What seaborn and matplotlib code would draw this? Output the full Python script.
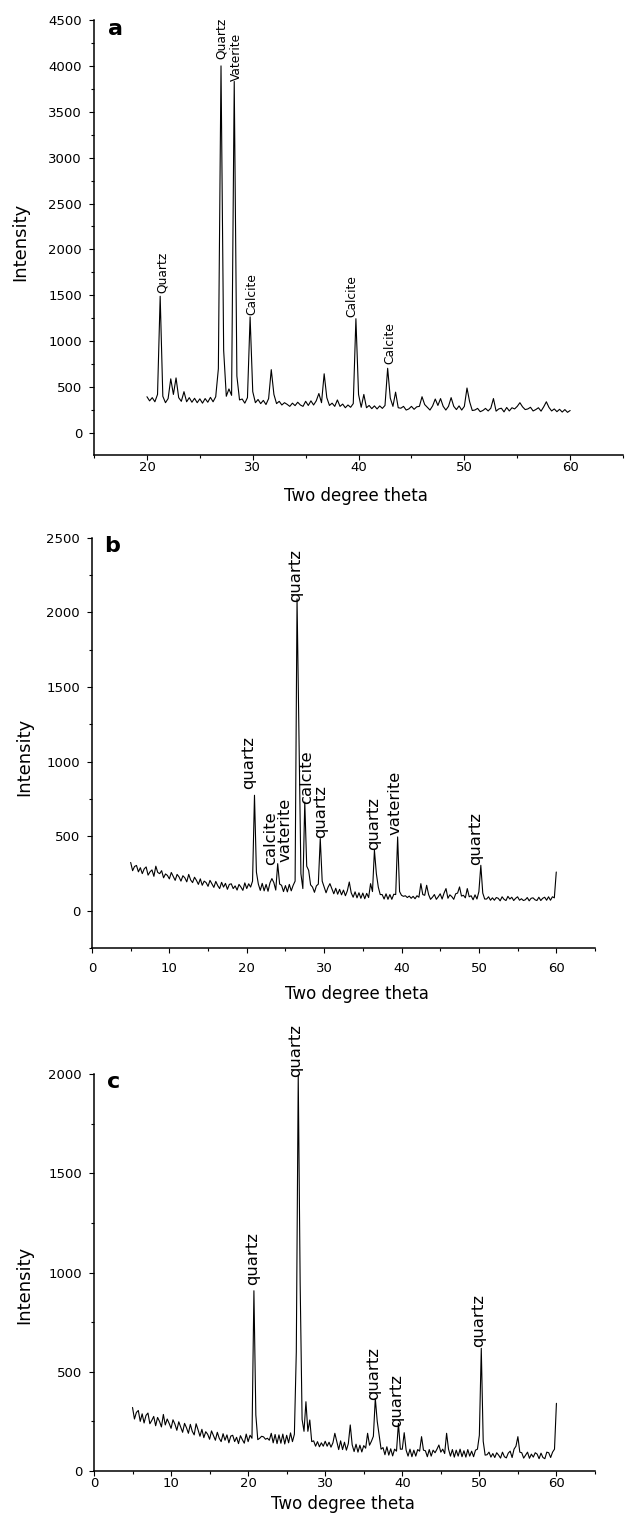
import numpy as np
import pandas as pd
import matplotlib
matplotlib.use("Agg")
import matplotlib.pyplot as plt
from matplotlib.ticker import MultipleLocator
import seaborn as sns

# scan: start angle of each pattern and step width (degrees 2-theta)
start_a = 20.0
start_bc = 5.0
step = 0.25

# pattern a, 20..60 deg, four readings per degree
intensity_a = [
    395, 350, 385, 340,  420, 1490, 400, 330,  375, 590, 420, 600,  385, 345, 450, 340,
    385, 335, 378, 330,  372, 325, 375, 335,  388, 340, 395, 700,  4000, 900, 400, 480,
    410, 3830, 620, 360,  370, 325, 385, 1265,  450, 330, 365, 320,  355, 310, 375, 690,
    420, 320, 345, 305,  330, 312, 290, 325,  298, 335, 305, 290,  345, 300, 350, 305,
    350, 430, 330, 645,  385, 300, 325, 290,  360, 290, 315, 275,  305, 280, 320, 1245,
    420, 280, 420, 275,  300, 265, 295, 262,  295, 268, 300, 705,  380, 290, 445, 275,
    270, 290, 250, 262,  290, 258, 285, 290,  395, 310, 280, 250,  295, 370, 300, 375,
    290, 250, 290, 385,  290, 255, 295, 250,  290, 490, 340, 245,  250, 268, 232, 245,
    268, 240, 270, 375,  238, 262, 270, 230,  278, 240, 275, 262,  290, 330, 285, 255,
    262, 280, 240, 255,  275, 238, 285, 340,  278, 240, 262, 232,  258, 228, 255, 225,
    245,
]

# pattern b, 5..60 deg
intensity_b = [
    325, 270, 298, 305,  262, 290, 250, 282,  295, 240, 262, 275,  232, 300, 258, 250,
    270, 222, 248, 238,  215, 258, 232, 205,  245, 228, 200, 236,  222, 195, 245, 208,
    190, 226, 205, 178,  215, 172, 200, 190,  165, 205, 182, 158,  198, 170, 150, 192,
    160, 185, 145, 178,  182, 150, 168, 140,  178, 160, 138, 188,  150, 182, 160, 200,
    775, 260, 180, 138,  185, 135, 178, 132,  188, 217, 190, 140,  317, 180, 172, 130,
    170, 128, 178, 135,  172, 200, 2090, 1150,  250, 150, 730, 300,  272, 175, 160, 125,
    168, 180, 485, 200,  160, 122, 158, 183,  150, 115, 152, 112,  145, 108, 140, 102,
    135, 194, 122, 92,  128, 88, 122, 85,  120, 82, 118, 90,  183, 130, 407, 250,
    160, 110, 110, 80,  115, 78, 110, 78,  112, 110, 496, 130,  105, 98, 102, 90,
    100, 85, 98, 82,  102, 92, 183, 110,  105, 172, 110, 78,  92, 110, 78, 95,
    115, 80, 120, 150,  85, 108, 96, 78,  115, 120, 161, 100,  105, 88, 150, 95,
    102, 75, 108, 80,  130, 306, 120, 80,  80, 95, 72, 88,  72, 90, 85, 68,
    95, 78, 70, 98,  80, 92, 70, 85,  95, 72, 82, 70,  75, 90, 68, 85,
    88, 75, 70, 92,  70, 85, 92, 72,  95, 72, 95, 88,
    261,
]

# pattern c, 5..60 deg
intensity_c = [
    320, 262, 295, 305,  250, 288, 242, 280,  292, 238, 255, 275,  228, 270, 250, 222,
    285, 232, 262, 240,  215, 258, 236, 205,  248, 222, 195, 240,  218, 190, 235, 200,
    182, 238, 208, 175,  210, 168, 198, 185,  160, 202, 178, 155,  195, 165, 148, 188,
    155, 182, 142, 176,  180, 148, 170, 138,  178, 158, 140, 186,  148, 180, 165, 908,
    282, 158, 165, 175,  172, 160, 165, 155,  190, 142, 184, 138,  182, 140, 186, 136,
    180, 142, 192, 148,  185, 600, 1995, 945,  260, 200, 349, 200,  257, 148, 152, 125,
    148, 122, 142, 125,  150, 125, 145, 120,  142, 190, 148, 108,  152, 108, 145, 105,
    138, 232, 132, 98,  135, 95, 130, 96,  128, 115, 190, 130,  150, 175, 366, 250,
    180, 110, 118, 82,  122, 80, 112, 76,  110, 100, 240, 110,  110, 193, 105, 75,
    110, 72, 105, 75,  108, 100, 173, 105,  102, 72, 108, 75,  105, 92, 110, 131,
    95, 110, 88, 190,  110, 75, 108, 70,  105, 75, 110, 72,  102, 70, 108, 75,
    100, 72, 105, 110,  180, 618, 150, 80,  82, 95, 70, 88,  68, 92, 80, 65,
    95, 72, 66, 90,  100, 68, 110, 125,  173, 95, 92, 65,  80, 95, 64, 85,
    70, 92, 85, 62,  90, 68, 62, 95,  92, 68, 95, 110,
    341,
]

# phase labels: text, x (deg), y where the text starts
names_a = ["Quartz", "Quartz", "Vaterite", "Calcite", "Calcite", "Calcite"]
label_x_a = [21.45, 27.0, 28.45, 29.95, 39.4, 43.0]
label_y_a = [1530, 4070, 3830, 1285, 1260, 750]

names_b = ["quartz", "calcite", "vaterite", "quartz", "calcite", "quartz", "quartz", "vaterite", "quartz"]
label_x_b = [20.2, 23.15, 24.9, 26.3, 27.7, 29.5, 36.4, 39.2, 49.6]
label_y_b = [820, 306, 328, 2071, 719, 491, 407, 507, 310]

names_c = ["quartz", "quartz", "quartz", "quartz", "quartz"]
label_x_c = [20.6, 26.2, 36.25, 39.3, 49.85]
label_y_c = [937, 1986, 358, 223, 626]

sns.set_style("ticks")
plt.rcParams["font.family"] = ["DejaVu Sans"]
plt.rcParams["text.color"] = "black"
plt.rcParams["axes.labelcolor"] = "black"
plt.rcParams["xtick.color"] = "black"
plt.rcParams["ytick.color"] = "black"

fig = plt.figure(figsize=(6.27, 15.39), dpi=100)
ax_a = fig.add_axes([0.150, 0.70435, 0.8437, 0.28265])
ax_b = fig.add_axes([0.1467, 0.38382, 0.8022, 0.26679])
ax_c = fig.add_axes([0.1499, 0.04418, 0.7990, 0.25796])

panels = [
    (ax_a, start_a, intensity_a, (15, 65), (-240, 4500), names_a, label_x_a, label_y_a, 8.8, "a", 1.0, (-0.1234, 0.49), (0.495, -0.0736)),
    (ax_b, start_bc, intensity_b, (0, 65), (-250, 2500), names_b, label_x_b, label_y_b, 11.8, "b", 6.0, (-0.1167, 0.466), (0.527, -0.0894)),
    (ax_c, start_bc, intensity_c, (0, 65), (0, 2000), names_c, label_x_c, label_y_c, 11.8, "c", 1.0, (-0.121, 0.468), (0.497, -0.0605)),
]

for ax, start, vals, xl, yl, names, lx, ly, fs, letter, xpad, ylab, xlab in panels:
    df = pd.DataFrame({"two_theta": start + step * np.arange(len(vals)), "intensity": vals})
    sns.lineplot(data=df, x="two_theta", y="intensity", ax=ax, color="black",
                 linewidth=0.8, estimator=None)
    ax.set_xlim(*xl)
    ax.set_ylim(*yl)
    ax.xaxis.set_major_locator(MultipleLocator(10))
    ax.xaxis.set_minor_locator(MultipleLocator(5))
    ax.yaxis.set_major_locator(MultipleLocator(500))
    ax.yaxis.set_minor_locator(MultipleLocator(250))
    ax.tick_params(which="major", direction="out", length=3.6, width=0.8, labelsize=9.5, color="black")
    ax.tick_params(which="minor", direction="out", length=2.4, width=0.8, color="black")
    ax.tick_params(axis="x", which="major", pad=xpad)
    ax.tick_params(axis="y", which="major", pad=5)
    sns.despine(ax=ax)
    for s in ["left", "bottom"]:
        ax.spines[s].set_linewidth(1.1)
        ax.spines[s].set_color("black")
    ax.set_xlabel("Two degree theta", fontsize=12)
    ax.set_ylabel("Intensity", fontsize=13)
    ax.xaxis.set_label_coords(*xlab)
    ax.yaxis.set_label_coords(*ylab)
    for n, x, y in zip(names, lx, ly):
        ax.text(x, y, n, rotation=90, ha="center", va="bottom", fontsize=fs)
    ax.text(0.04, 0.98, letter, transform=ax.transAxes, ha="center", va="center",
            fontsize=16, fontweight="bold")

fig.savefig("out.png", dpi=100)
